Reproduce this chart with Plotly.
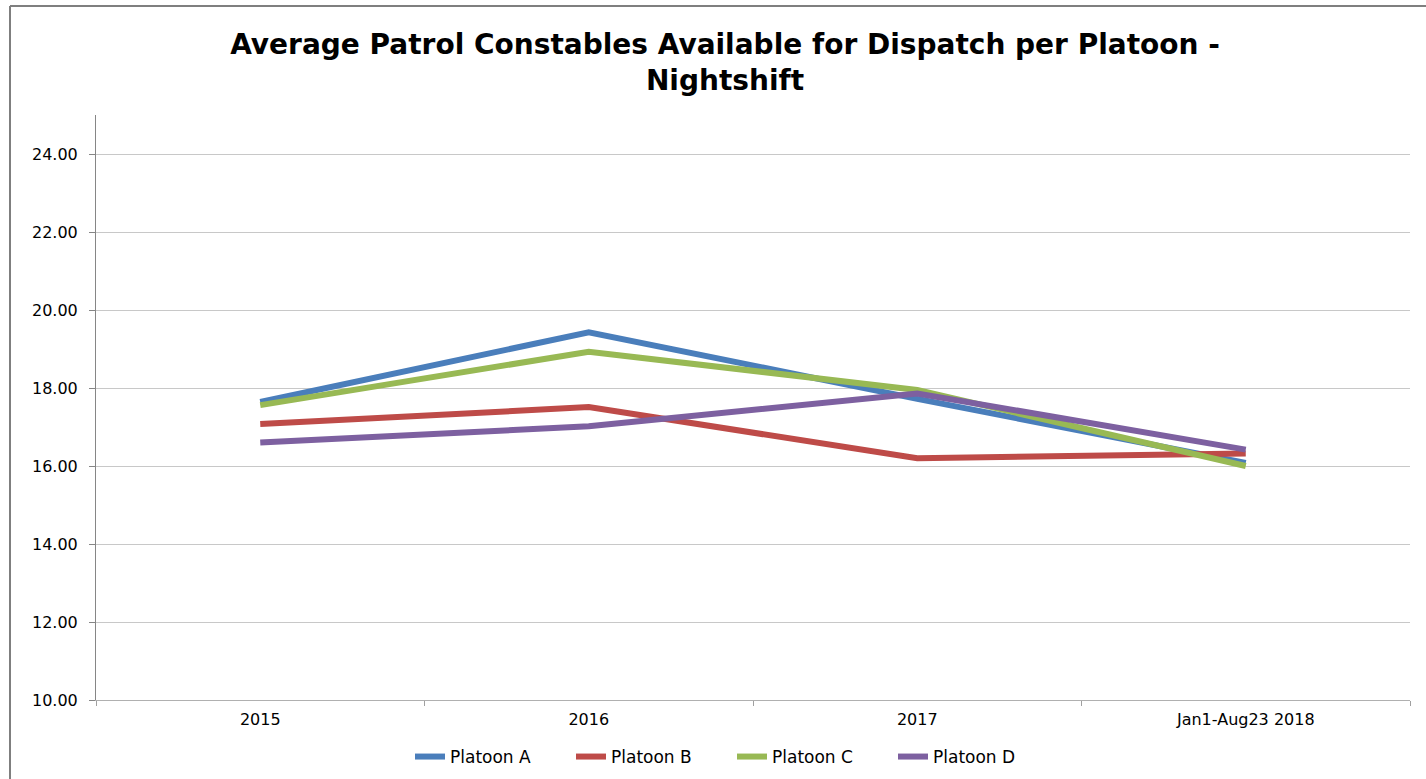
import plotly.graph_objects as go

categories = ["2015", "2016", "2017", "Jan1-Aug23 2018"]
platoon_a = [17.64, 19.43, 17.72, 16.08]
platoon_b = [17.08, 17.51, 16.20, 16.32]
platoon_c = [17.56, 18.93, 17.95, 16.00]
platoon_d = [16.60, 17.02, 17.86, 16.42]

series_names = ["Platoon A", "Platoon B", "Platoon C", "Platoon D"]
series_values = [platoon_a, platoon_b, platoon_c, platoon_d]
colors = ["#4A7EBB", "#BE4B48", "#98B954", "#7D60A0"]

y_ticks = [10, 12, 14, 16, 18, 20, 22, 24]
y_tick_labels = ["10.00", "12.00", "14.00", "16.00", "18.00", "20.00", "22.00", "24.00"]

FONT = "DejaVu Sans"

fig = go.Figure()
for name, vals, col in zip(series_names, series_values, colors):
    fig.add_trace(go.Scatter(
        x=categories, y=vals, name=name, mode="lines",
        line=dict(color=col, width=6),
    ))

W, H = 1426, 779
ml, mr, mt, mb = 96, 16, 115, 79
pw = W - ml - mr
ph = H - mt - mb

fig.update_layout(
    width=W, height=H, autosize=False,
    margin=dict(l=ml, r=mr, t=mt, b=mb, autoexpand=False),
    paper_bgcolor="white", plot_bgcolor="white",
    font=dict(family=FONT, color="#000000", size=16),
    title=dict(
        text="<b>Average Patrol Constables Available for Dispatch per Platoon -<br>Nightshift</b>",
        x=725 / W, xanchor="center", xref="container",
        y=1 - 54 / H, yanchor="middle", yref="container",
        font=dict(family=FONT, size=28, color="#000000"),
    ),
    showlegend=True,
    legend=dict(
        orientation="h", x=(732 - ml) / pw, xanchor="center",
        y=(H - mb - 757) / ph, yanchor="middle",
        font=dict(family=FONT, size=17, color="#000000"),
        entrywidth=116, entrywidthmode="pixels",
        itemwidth=30, tracegroupgap=0,
        bgcolor="rgba(0,0,0,0)",
    ),
    xaxis=dict(
        type="category", range=[-0.5, 3.5], automargin=False,
        showgrid=False, showline=True, linecolor="#B0B0B0", linewidth=1,
        ticks="outside", tickson="boundaries", ticklen=5, tickcolor="#A0A0A0",
        tickfont=dict(family=FONT, size=16, color="#000000"),
        ticklabelstandoff=5,
        zeroline=False,
    ),
    yaxis=dict(
        range=[10, 25], tickvals=y_ticks, ticktext=y_tick_labels, automargin=False,
        showgrid=True, gridcolor="#C8C8C8", gridwidth=1,
        showline=True, linecolor="#868686", linewidth=1,
        ticks="outside", ticklen=6, tickcolor="#868686",
        tickfont=dict(family=FONT, size=16, color="#000000"),
        ticklabelstandoff=8,
        zeroline=False,
    ),
)

# chart frame (top and left edge visible in reference)
fx0 = (10 - ml) / pw
fy1 = (H - mb - 6) / ph
fig.add_shape(type="line", xref="paper", yref="paper",
              x0=fx0, x1=(W - ml) / pw, y0=fy1, y1=fy1,
              line=dict(color="#7F7F7F", width=2))
fig.add_shape(type="line", xref="paper", yref="paper",
              x0=fx0, x1=fx0, y0=fy1, y1=-mb / ph,
              line=dict(color="#7F7F7F", width=2))

fig.write_html("out.html", config={"displayModeBar": False},
               post_script="document.body.style.margin='0';document.body.style.overflow='hidden';")
